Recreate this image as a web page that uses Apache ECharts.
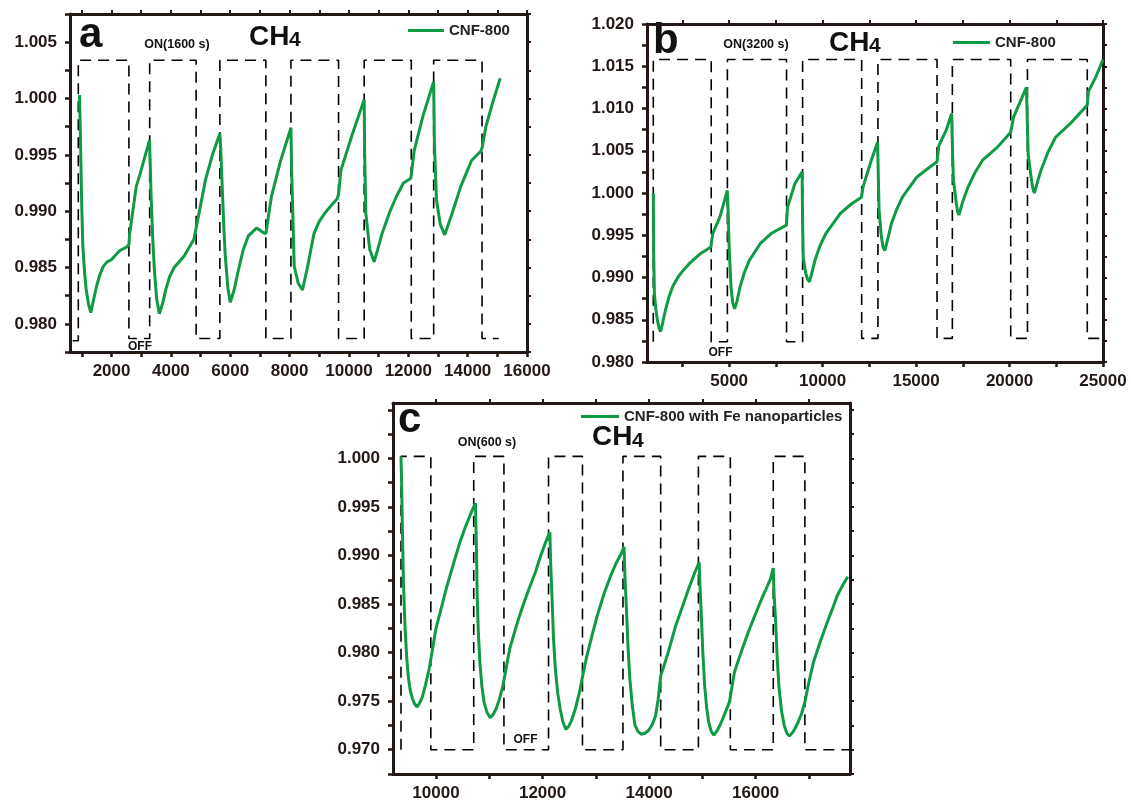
<!DOCTYPE html>
<html>
<head>
<meta charset="utf-8">
<script src="https://cdn.jsdelivr.net/npm/echarts@6/dist/echarts.min.js"></script>
<style>
  html, body { margin: 0; padding: 0; background: #fff; }
  #main { width: 1131px; height: 807px; }
</style>
</head>
<body>
<div id="main"></div>
<script>
// Panel a : CNF-800, ON 1600 s
const aTime = [920, 945, 967, 1000, 1033, 1090, 1143, 1220, 1300, 1400, 1500, 1600, 1720, 1850, 2000, 2277, 2500, 2585, 2610, 2833, 2950, 3280,
  3300, 3333, 3390, 3443, 3520, 3610, 3720, 3833, 3960, 4110, 4443, 4777, 4850, 5167, 5400, 5650,
  5680, 5720, 5780, 5833, 5920, 6000, 6130, 6277, 6440, 6610, 6887, 7110, 7200, 7387, 7700, 8045,
  8070, 8156, 8290, 8434, 8600, 8820, 9000, 9182, 9400, 9605, 9650, 9726, 10111, 10513,
  10530, 10570, 10700, 10848, 10970, 11113, 11355, 11600, 11837, 12079, 12100, 12200, 12500, 12855,
  12880, 12949, 13080, 13226, 13450, 13769, 14131, 14433, 14485, 14614, 14850, 15097];
const aSignal = [1.0003, 0.9975, 0.9943, 0.9900, 0.9869, 0.9846, 0.9831, 0.9818, 0.9810, 0.9822, 0.9834, 0.9843, 0.9851, 0.9855, 0.9857, 0.9865, 0.9868, 0.9870, 0.9880, 0.9922, 0.9932, 0.9963,
  0.9945, 0.9913, 0.9875, 0.9848, 0.9822, 0.9809, 0.9818, 0.9831, 0.9842, 0.9850, 0.9860, 0.9875, 0.9885, 0.9928, 0.9950, 0.9969,
  0.9955, 0.9928, 0.9888, 0.9860, 0.9832, 0.9819, 0.9830, 0.9848, 0.9866, 0.9878, 0.9885, 0.9881, 0.9880, 0.9913, 0.9945, 0.9974,
  0.9935, 0.9851, 0.9836, 0.9830, 0.9850, 0.9880, 0.9891, 0.9898, 0.9905, 0.9911, 0.9915, 0.9936, 0.9968, 0.9999,
  0.9950, 0.9898, 0.9866, 0.9855, 0.9866, 0.9880, 0.9898, 0.9913, 0.9925, 0.9929, 0.9932, 0.9954, 0.9985, 1.0015,
  0.9960, 0.9910, 0.9888, 0.9879, 0.9896, 0.9922, 0.9945, 0.9953, 0.9956, 0.9975, 0.9997, 1.0018];
const aWaveTime = [690, 880, 2585, 3285, 4850, 5650, 7200, 8045, 9650, 10513, 12100, 12855, 14485, 15045];
const aWaveLevel = [0.9785, 1.0034, 0.9787, 1.0034, 0.9787, 1.0034, 0.9787, 1.0034, 0.9787, 1.0034, 0.9787, 1.0034, 0.9787, 0.9787];
const aXTicks = [1000, 2000, 3000, 4000, 5000, 6000, 7000, 8000, 9000, 10000, 11000, 12000, 13000, 14000, 15000, 16000];
const aXLabels = [2000, 4000, 6000, 8000, 10000, 12000, 14000, 16000];
const aYTicks = [0.9775, 0.98, 0.9825, 0.985, 0.9875, 0.99, 0.9925, 0.995, 0.9975, 1.0, 1.0025, 1.005, 1.0075];
const aYLabels = [0.98, 0.985, 0.99, 0.995, 1.0, 1.005];

// Panel b : CNF-800, ON 3200 s
const bTime = [942, 952, 962, 1000, 1080, 1157, 1250, 1332, 1450, 1586, 1780, 1976, 2250, 2561, 2850, 3147, 3450, 3732, 4024, 4122, 4512, 4902,
  4950, 5000, 5098, 5190, 5293, 5420, 5585, 5800, 6073, 6658, 7244, 8063, 8122, 8512, 8902,
  8930, 8961, 9097, 9190, 9293, 9420, 9585, 9850, 10170, 10951, 11536, 12082, 12160, 12609, 12941,
  12980, 13019, 13136, 13230, 13331, 13480, 13682, 13950, 14268, 15048, 15633, 16121, 16219, 16609, 16902,
  16950, 16999, 17155, 17220, 17292, 17500, 17780, 18150, 18560, 19341, 20062, 20219, 20609, 20902,
  20950, 20999, 21195, 21260, 21331, 21480, 21683, 22050, 22463, 23243, 24159, 24217, 24607, 25000];
const bSignal = [1.0000, 0.9972, 0.9930, 0.9881, 0.9862, 0.9850, 0.9840, 0.9836, 0.9847, 0.9861, 0.9877, 0.9889, 0.9900, 0.9909, 0.9916, 0.9922, 0.9928, 0.9932, 0.9936, 0.9952, 0.9972, 1.0003,
  0.9975, 0.9935, 0.9889, 0.9870, 0.9863, 0.9872, 0.9889, 0.9905, 0.9920, 0.9940, 0.9952, 0.9962, 0.9983, 1.0011, 1.0025,
  0.9965, 0.9924, 0.9905, 0.9898, 0.9895, 0.9905, 0.9920, 0.9937, 0.9952, 0.9976, 0.9987, 0.9995, 1.0007, 1.0039, 1.0060,
  1.0020, 0.9980, 0.9950, 0.9936, 0.9932, 0.9945, 0.9964, 0.9980, 0.9995, 1.0019, 1.0029, 1.0037, 1.0056, 1.0074, 1.0094,
  1.0050, 1.0015, 0.9988, 0.9978, 0.9974, 0.9990, 1.0007, 1.0024, 1.0039, 1.0054, 1.0072, 1.0090, 1.0110, 1.0125,
  1.0085, 1.0045, 1.0012, 1.0004, 1.0000, 1.0012, 1.0027, 1.0048, 1.0066, 1.0082, 1.0104, 1.0120, 1.0137, 1.0158];
const bWaveTime = [942, 942, 4040, 4905, 8070, 8930, 12090, 12960, 16121, 16941, 20062, 20959, 24159, 25000];
const bWaveLevel = [0.9824, 1.0158, 0.9824, 1.0158, 0.9824, 1.0158, 0.9828, 1.0158, 0.9828, 1.0158, 0.9828, 1.0158, 0.9828, 0.9828];
const bXTicks = [2500, 5000, 7500, 10000, 12500, 15000, 17500, 20000, 22500, 25000];
const bXLabels = [5000, 10000, 15000, 20000, 25000];
const bYTicks = [0.98, 0.9825, 0.985, 0.9875, 0.99, 0.9925, 0.995, 0.9975, 1.0, 1.0025, 1.005, 1.0075, 1.01, 1.0125, 1.015, 1.0175, 1.02];
const bYLabels = [0.98, 0.985, 0.99, 0.995, 1.0, 1.005, 1.01, 1.015, 1.02];

// Panel c : CNF-800 with Fe nanoparticles, ON 600 s
const cTime = [9343, 9355, 9369, 9390, 9420, 9450, 9485, 9520, 9562, 9600, 9646, 9690, 9742, 9800, 9871, 9930, 10000, 10100, 10193, 10320, 10451, 10550, 10644, 10740,
  10760, 10773, 10795, 10824, 10860, 10901, 10960, 11017, 11070, 11127, 11190, 11256, 11320, 11384, 11500, 11610, 11740, 11867, 11960, 12060, 12138,
  12150, 12176, 12205, 12240, 12285, 12331, 12380, 12434, 12490, 12543, 12620, 12691, 12760, 12833, 12930, 13026, 13150, 13284, 13380, 13477, 13529,
  13545, 13574, 13605, 13638, 13685, 13735, 13790, 13850, 13920, 13992, 14060, 14121, 14170, 14217, 14300, 14378, 14500, 14636, 14750, 14861, 14939,
  14955, 14977, 15008, 15042, 15080, 15119, 15165, 15216, 15280, 15345, 15420, 15506, 15550, 15602, 15730, 15860, 15990, 16117, 16200, 16278, 16330,
  16345, 16375, 16405, 16439, 16485, 16536, 16585, 16633, 16710, 16794, 16860, 16923, 17000, 17084, 17210, 17341, 17440, 17534, 17630, 17727];
const cSignal = [1.0002, 0.9975, 0.9928, 0.9870, 0.9825, 0.9795, 0.9773, 0.9760, 0.9752, 0.9747, 0.9744, 0.9748, 0.9754, 0.9766, 0.9783, 0.9802, 0.9825, 0.9846, 0.9866, 0.9890, 0.9914, 0.9929, 0.9942, 0.9954,
  0.9905, 0.9859, 0.9820, 0.9790, 0.9766, 0.9749, 0.9738, 0.9733, 0.9736, 0.9742, 0.9752, 0.9766, 0.9785, 0.9804, 0.9826, 0.9845, 0.9865, 0.9883, 0.9899, 0.9914, 0.9924,
  0.9895, 0.9859, 0.9815, 0.9783, 0.9758, 0.9742, 0.9729, 0.9721, 0.9724, 0.9730, 0.9743, 0.9759, 0.9778, 0.9797, 0.9818, 0.9838, 0.9860, 0.9880, 0.9892, 0.9902, 0.9909,
  0.9880, 0.9845, 0.9805, 0.9773, 0.9745, 0.9725, 0.9719, 0.9716, 0.9717, 0.9720, 0.9726, 0.9735, 0.9752, 0.9776, 0.9790, 0.9804, 0.9828, 0.9849, 0.9867, 0.9883, 0.9893,
  0.9868, 0.9842, 0.9800, 0.9766, 0.9743, 0.9728, 0.9719, 0.9715, 0.9720, 0.9727, 0.9737, 0.9749, 0.9763, 0.9780, 0.9801, 0.9821, 0.9839, 0.9856, 0.9866, 0.9876, 0.9887,
  0.9860, 0.9831, 0.9793, 0.9763, 0.9740, 0.9725, 0.9717, 0.9714, 0.9719, 0.9728, 0.9737, 0.9749, 0.9770, 0.9790, 0.9811, 0.9831, 0.9845, 0.9859, 0.9869, 0.9878];
const cWaveTime = [9343, 9343, 9903, 10708, 11275, 12112, 12749, 13509, 14217, 14925, 15524, 16330, 16923, 17770];
const cWaveLevel = [0.9700, 1.0002, 0.9700, 1.0002, 0.9700, 1.0002, 0.9700, 1.0002, 0.9700, 1.0002, 0.9700, 1.0002, 0.9700, 0.9700];
const cXTicks = [10000, 11000, 12000, 13000, 14000, 15000, 16000, 17000];
const cXLabels = [10000, 12000, 14000, 16000];
const cYTicks = [0.9675, 0.97, 0.9725, 0.975, 0.9775, 0.98, 0.9825, 0.985, 0.9875, 0.99, 0.9925, 0.995, 0.9975, 1.0, 1.0025, 1.005];
const cYLabels = [0.97, 0.975, 0.98, 0.985, 0.99, 0.995, 1.0];

const ink = '#231815';
const green = '#0f9a44';
const fontFamily = '"Liberation Sans", Arial, sans-serif';

function pairs(xs, ys) {
  return xs.map((x, i) => [x, ys[i]]);
}

function xAxes(grid, min, max, ticks, labels) {
  const line = { show: true, onZero: false, lineStyle: { color: ink, width: 3 } };
  return [
    {
      type: 'value', gridIndex: grid, position: 'bottom', min: min, max: max,
      axisLine: line,
      axisTick: { show: true, customValues: ticks, length: 5, lineStyle: { color: ink, width: 2.5 } },
      axisLabel: {
        customValues: labels, margin: 11, color: ink, fontSize: 17, fontWeight: 'bold', fontFamily: fontFamily,
        formatter: v => String(v)
      },
      splitLine: { show: false }
    },
    {
      type: 'value', gridIndex: grid, position: 'top', min: min, max: max,
      axisLine: line,
      axisTick: { show: true, customValues: ticks, length: 4, lineStyle: { color: ink, width: 2 } },
      axisLabel: { show: false },
      splitLine: { show: false }
    }
  ];
}

function yAxes(grid, min, max, ticks, labels) {
  const line = { show: true, onZero: false, lineStyle: { color: ink, width: 3 } };
  return [
    {
      type: 'value', gridIndex: grid, position: 'left', min: min, max: max,
      axisLine: line,
      axisTick: { show: true, customValues: ticks, length: 5, lineStyle: { color: ink, width: 2.5 } },
      axisLabel: {
        customValues: labels, margin: 13, color: ink, fontSize: 17, fontWeight: 'bold', fontFamily: fontFamily,
        formatter: v => v.toFixed(3)
      },
      splitLine: { show: false }
    },
    {
      type: 'value', gridIndex: grid, position: 'right', min: min, max: max,
      axisLine: line,
      axisTick: { show: true, customValues: ticks, length: 4, lineStyle: { color: ink, width: 2 } },
      axisLabel: { show: false },
      splitLine: { show: false }
    }
  ];
}

function curve(name, axis, xs, ys) {
  return {
    name: name, type: 'line', xAxisIndex: axis, yAxisIndex: axis,
    data: pairs(xs, ys), symbol: 'none', z: 3,
    lineStyle: { color: green, width: 3 }, itemStyle: { color: green }
  };
}

function wave(axis, xs, ys) {
  return {
    name: 'ON/OFF', type: 'line', xAxisIndex: axis, yAxisIndex: axis, step: 'end',
    data: pairs(xs, ys), symbol: 'none', z: 2, silent: true,
    lineStyle: { color: '#000', width: 1.6, type: [11, 7] }
  };
}

function label(text, x, y, size, align) {
  return {
    type: 'text', x: x, y: y, silent: true,
    style: {
      text: text, fill: '#111', font: 'bold ' + size + 'px ' + fontFamily,
      textAlign: align || 'left', textVerticalAlign: 'middle'
    }
  };
}

const legendText = { color: '#222', fontSize: 15, fontWeight: 'bold', fontFamily: fontFamily };

function legend(name, left, top, width) {
  return {
    data: [name], left: left, top: top, padding: 0, icon: 'rect',
    itemWidth: width, itemHeight: 3, itemGap: 4, textStyle: legendText, selectedMode: false
  };
}

const chart = echarts.init(document.getElementById('main'), null, { renderer: 'canvas' });
chart.setOption({
  animation: false,
  backgroundColor: '#fff',
  grid: [
    { left: 70, top: 14, width: 457, height: 338 },
    { left: 647, top: 24, width: 456, height: 338 },
    { left: 393, top: 403, width: 457, height: 371 }
  ],
  xAxis: [].concat(
    xAxes(0, 600, 16000, aXTicks, aXLabels),
    xAxes(1, 605, 25000, bXTicks, bXLabels),
    xAxes(2, 9193, 17770, cXTicks, cXLabels)
  ),
  yAxis: [].concat(
    yAxes(0, 0.9775, 1.0075, aYTicks, aYLabels),
    yAxes(1, 0.98, 1.02, bYTicks, bYLabels),
    yAxes(2, 0.9675, 1.0057, cYTicks, cYLabels)
  ),
  legend: [
    legend('CNF-800', 408, 23, 36),
    legend('CNF-800', 953, 35, 37),
    legend('CNF-800 with Fe nanoparticles', 581, 409, 38)
  ],
  series: [
    wave(0, aWaveTime, aWaveLevel),
    curve('CNF-800', 0, aTime, aSignal),
    wave(2, bWaveTime, bWaveLevel),
    curve('CNF-800', 2, bTime, bSignal),
    wave(4, cWaveTime, cWaveLevel),
    curve('CNF-800 with Fe nanoparticles', 4, cTime, cSignal)
  ],
  graphic: [
    label('a', 79, 35.5, 42),
    label('CH', 249, 37, 28),
    label('4', 289, 40, 21),
    label('ON(1600 s)', 177, 44.5, 12.5, 'center'),
    label('OFF', 140, 346.5, 12, 'center'),

    label('b', 653, 41, 42),
    label('CH', 829, 43, 28),
    label('4', 869, 46.5, 21),
    label('ON(3200 s)', 756, 45, 12.5, 'center'),
    label('OFF', 720.5, 352.5, 12, 'center'),

    label('c', 398, 420, 42),
    label('CH', 592, 437.5, 28),
    label('4', 632, 441, 21),
    label('ON(600 s)', 487, 443, 12.5, 'center'),
    label('OFF', 525.5, 740, 12, 'center')
  ]
});

window.addEventListener('resize', () => {
  chart.resize();
});
</script>
</body>
</html>
